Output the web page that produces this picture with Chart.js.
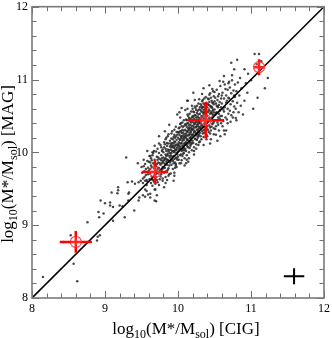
<!DOCTYPE html>
<html>
<head>
<meta charset="utf-8">
<script src="https://cdn.jsdelivr.net/npm/chart.js@4.4.1/dist/chart.umd.min.js"></script>
<style>
  body { margin: 0; background: #fff; }
</style>
</head>
<body>
<canvas id="chart" width="332" height="338"></canvas>
<script>
// axis range and labels
const axisMin = 8;
const axisMax = 12;
const tickLabels = [8, 9, 10, 11, 12];

// individual galaxies: [log M* CIG, log M* MAG]
const galaxies = [
  [8.15,8.29],[8.62,8.23],[8.57,8.47],[8.43,8.77],[8.53,8.86],[8.76,9.04],[8.91,9.18],[8.92,9.11],[8.98,9.16],[8.90,8.84],
  [8.89,8.79],[8.93,8.86],[8.94,9.34],[9.00,9.30],[9.07,9.31],[9.09,9.45],[9.17,9.44],[9.18,9.52],[9.18,9.48],[9.11,9.06],
  [9.11,9.25],[9.20,9.27],[9.07,9.27],[9.27,9.11],[9.24,9.26],[9.32,9.34],[9.31,9.59],[9.37,9.60],[9.41,9.57],[9.46,9.59],
  [9.49,9.61],[9.40,9.20],[9.46,9.34],[9.47,9.38],[9.52,9.41],[9.55,9.39],[9.59,9.42],[9.68,9.49],[9.68,9.34],[9.71,9.41],
  [9.32,9.43],[9.33,9.45],[9.57,9.47],[9.55,9.61],[9.64,9.63],[9.70,9.33],[9.69,9.49],[9.81,9.52],[9.79,9.61],[9.85,9.62],
  [9.87,9.68],[9.94,9.61],[9.90,9.71],[9.95,9.68],[9.97,9.82],[10.04,9.85],[10.09,9.82],[10.11,9.85],[10.14,9.87],[9.62,9.43],
  [9.62,9.38],[9.29,9.93],[9.68,10.09],[9.62,9.95],[9.65,10.00],[9.82,10.29],[9.99,10.52],[10.05,10.61],[10.13,10.71],
  [9.51,9.72],[9.52,9.58],[9.53,9.81],[9.54,9.66],[9.55,9.49],[9.56,9.77],[9.57,9.62],[9.58,9.88],[9.59,9.70],[9.52,9.64],
  [9.55,9.84],[9.57,9.55],[9.59,9.79],[9.54,9.74],[9.58,9.60],[9.50,9.80],[9.56,9.69],[9.53,9.90],
  [9.60,9.75],[9.61,9.63],[9.62,9.86],[9.62,9.71],[9.63,9.92],[9.63,9.58],[9.64,9.80],[9.64,9.67],[9.65,9.96],[9.65,9.73],
  [9.66,9.62],[9.66,9.85],[9.67,9.78],[9.67,10.02],[9.68,9.69],[9.68,9.90],[9.69,9.76],[9.69,9.57],[9.61,9.95],[9.63,9.82],
  [9.65,9.54],[9.66,9.99],[9.68,9.83],[9.69,9.65],[9.62,9.77],[9.64,9.89],[9.67,9.60],[9.60,9.87],
  [9.70,9.81],[9.70,9.66],[9.71,9.94],[9.71,9.74],[9.72,10.05],[9.72,9.59],[9.73,9.86],[9.73,9.71],[9.74,9.99],[9.74,9.78],
  [9.75,9.63],[9.75,9.91],[9.76,10.10],[9.76,9.83],[9.77,9.70],[9.77,9.96],[9.78,9.76],[9.78,10.02],[9.79,9.88],[9.79,9.64],
  [9.70,10.01],[9.71,9.84],[9.72,9.77],[9.73,9.93],[9.74,9.55],[9.75,9.85],[9.76,9.74],[9.77,10.07],[9.78,9.92],[9.79,9.80],
  [9.72,9.90],[9.74,10.12],[9.76,9.67],[9.78,9.85],[9.73,9.79],[9.77,9.89],[9.79,10.04],[9.71,9.62],
  [9.80,9.86],[9.80,10.00],[9.81,9.72],[9.81,10.14],[9.82,9.91],[9.82,9.79],[9.83,10.05],[9.83,9.66],[9.84,9.95],[9.84,10.20],
  [9.85,9.83],[9.85,10.09],[9.86,9.76],[9.86,9.98],[9.87,10.25],[9.87,9.88],[9.88,10.03],[9.88,9.70],[9.89,9.93],[9.89,10.16],
  [9.80,9.93],[9.81,10.07],[9.82,9.84],[9.83,9.97],[9.84,9.74],[9.85,10.13],[9.86,9.90],[9.87,10.01],[9.88,9.82],[9.89,10.08],
  [9.81,9.89],[9.83,10.18],[9.85,9.96],[9.87,9.78],[9.89,9.99],[9.82,10.11],[9.84,9.87],[9.86,10.04],[9.88,9.95],[9.80,9.78],
  [9.85,9.90],[9.87,10.12],[9.83,9.92],[9.89,9.86],[9.86,10.22],[9.84,10.02],
  [9.90,9.96],[9.90,10.12],[9.91,9.83],[9.91,10.26],[9.92,10.02],[9.92,9.90],[9.93,10.18],[9.93,9.77],[9.94,10.07],[9.94,9.95],
  [9.95,10.31],[9.95,10.00],[9.96,9.86],[9.96,10.14],[9.97,9.93],[9.97,10.22],[9.98,10.05],[9.98,9.80],[9.99,10.11],[9.99,9.97],
  [9.90,10.04],[9.91,10.19],[9.92,9.94],[9.93,10.09],[9.94,9.85],[9.95,10.15],[9.96,10.03],[9.97,10.35],[9.98,9.92],[9.99,10.24],
  [9.91,9.99],[9.92,10.13],[9.93,9.88],[9.94,10.21],[9.95,10.06],[9.96,9.79],[9.97,10.10],[9.98,10.17],[9.99,9.90],[9.90,10.08],
  [9.92,10.29],[9.94,10.01],[9.96,10.20],[9.98,9.99],[9.93,10.02],[9.95,9.91],[9.97,10.03],[9.99,10.07],[9.91,10.10],[9.95,10.24],
  [9.97,9.84],[9.90,9.88],[9.94,10.12],[9.98,10.28],[9.96,10.09],[9.92,10.07],
  [10.00,10.10],[10.00,9.94],[10.01,10.27],[10.01,10.04],[10.02,9.85],[10.02,10.18],[10.03,10.39],[10.03,10.08],[10.04,9.97],[10.04,10.22],
  [10.05,10.13],[10.05,9.89],[10.06,10.31],[10.06,10.05],[10.07,10.19],[10.07,9.98],[10.08,10.44],[10.08,10.11],[10.09,10.25],[10.09,9.92],
  [10.00,10.20],[10.01,10.14],[10.02,10.06],[10.03,10.29],[10.04,10.12],[10.05,10.36],[10.06,10.16],[10.07,10.08],[10.08,10.30],[10.09,10.03],
  [10.00,10.01],[10.01,10.33],[10.02,10.24],[10.03,9.96],[10.04,10.40],[10.05,10.21],[10.06,9.95],[10.07,10.27],[10.08,10.17],[10.09,10.37],
  [10.00,10.28],[10.02,10.12],[10.04,10.05],[10.06,10.23],[10.08,9.99],[10.01,9.90],[10.03,10.17],[10.05,10.27],[10.07,10.35],[10.09,10.13],
  [10.02,10.34],[10.04,10.19],[10.06,10.09],[10.08,10.22],[10.03,10.48],[10.07,10.03],[10.09,10.20],[10.05,10.02],[10.01,10.09],[10.06,10.41],
  [10.08,10.06],[10.04,10.29],
  [10.10,10.22],[10.10,10.05],[10.11,10.38],[10.11,10.14],[10.12,9.96],[10.12,10.29],[10.13,10.52],[10.13,10.18],[10.14,10.07],[10.14,10.33],
  [10.15,10.24],[10.15,10.00],[10.16,10.43],[10.16,10.15],[10.17,10.30],[10.17,10.09],[10.18,10.56],[10.18,10.21],[10.19,10.36],[10.19,10.03],
  [10.10,10.31],[10.11,10.26],[10.12,10.17],[10.13,10.40],[10.14,10.23],[10.15,10.47],[10.16,10.27],[10.17,10.19],[10.18,10.41],[10.19,10.13],
  [10.10,10.12],[10.11,10.45],[10.12,10.35],[10.13,10.08],[10.14,10.50],[10.15,10.32],[10.16,10.06],[10.17,10.38],[10.18,10.28],[10.19,10.48],
  [10.10,10.39],[10.12,10.23],[10.14,10.16],[10.16,10.34],[10.18,10.11],[10.11,10.02],[10.13,10.28],[10.15,10.37],[10.17,10.46],[10.19,10.24],
  [10.12,10.44],[10.14,10.30],[10.16,10.20],[10.18,10.33],[10.13,10.60],[10.17,10.14],[10.19,10.31],[10.15,10.12],[10.11,10.20],[10.16,10.53],
  [10.18,10.17],[10.14,10.40],[10.10,10.58],[10.13,10.71],[10.19,10.64],[10.15,9.92],[10.17,10.25],[10.12,10.10],
  [10.20,10.32],[10.20,10.16],[10.21,10.49],[10.21,10.25],[10.22,10.07],[10.22,10.40],[10.23,10.63],[10.23,10.29],[10.24,10.18],[10.24,10.44],
  [10.25,10.35],[10.25,10.11],[10.26,10.54],[10.26,10.26],[10.27,10.41],[10.27,10.20],[10.28,10.67],[10.28,10.32],[10.29,10.47],[10.29,10.14],
  [10.20,10.42],[10.21,10.37],[10.22,10.28],[10.23,10.51],[10.24,10.34],[10.25,10.58],[10.26,10.38],[10.27,10.30],[10.28,10.52],[10.29,10.24],
  [10.20,10.23],[10.21,10.56],[10.22,10.46],[10.23,10.19],[10.24,10.61],[10.25,10.43],[10.26,10.17],[10.27,10.49],[10.28,10.39],[10.29,10.59],
  [10.20,10.50],[10.22,10.34],[10.24,10.27],[10.26,10.45],[10.28,10.22],[10.21,10.13],[10.23,10.39],[10.25,10.48],[10.27,10.57],[10.29,10.35],
  [10.22,10.55],[10.24,10.41],[10.26,10.31],[10.28,10.44],[10.23,10.72],[10.27,10.25],[10.29,10.42],[10.25,10.23],[10.21,10.31],[10.26,10.64],
  [10.28,10.28],[10.24,10.51],[10.29,10.73],[10.22,10.02],[10.27,10.36],[10.20,10.60],[10.25,10.05],[10.28,10.10],
  [10.30,10.41],[10.30,10.27],[10.31,10.58],[10.31,10.34],[10.32,10.18],[10.32,10.50],[10.33,10.70],[10.33,10.38],[10.34,10.26],[10.34,10.55],
  [10.35,10.45],[10.35,10.21],[10.36,10.63],[10.36,10.36],[10.37,10.52],[10.37,10.30],[10.38,10.76],[10.38,10.42],[10.39,10.57],[10.39,10.24],
  [10.30,10.53],[10.31,10.46],[10.32,10.37],[10.33,10.61],[10.34,10.44],[10.35,10.67],[10.36,10.47],[10.37,10.39],[10.38,10.60],[10.39,10.33],
  [10.30,10.33],[10.31,10.66],[10.32,10.56],[10.33,10.29],[10.34,10.72],[10.35,10.53],[10.36,10.27],[10.37,10.59],[10.38,10.49],[10.39,10.68],
  [10.30,10.62],[10.32,10.43],[10.34,10.35],[10.36,10.55],[10.38,10.31],[10.31,10.22],[10.33,10.48],[10.35,10.58],[10.37,10.66],[10.39,10.45],
  [10.32,10.64],[10.34,10.50],[10.36,10.40],[10.38,10.54],[10.33,10.80],[10.37,10.34],[10.39,10.51],[10.35,10.31],[10.31,10.40],[10.36,10.74],
  [10.38,10.37],[10.34,10.62],[10.30,10.15],[10.35,10.10],[10.39,10.18],
  [10.40,10.50],[10.40,10.36],[10.41,10.66],[10.41,10.43],[10.42,10.28],[10.42,10.59],[10.43,10.79],[10.43,10.47],[10.44,10.34],[10.44,10.64],
  [10.45,10.54],[10.45,10.30],[10.46,10.71],[10.46,10.45],[10.47,10.61],[10.47,10.39],[10.48,10.84],[10.48,10.51],[10.49,10.66],[10.49,10.33],
  [10.40,10.62],[10.41,10.55],[10.42,10.46],[10.43,10.69],[10.44,10.53],[10.45,10.75],[10.46,10.56],[10.47,10.48],[10.48,10.68],[10.49,10.42],
  [10.40,10.42],[10.41,10.74],[10.42,10.65],[10.43,10.37],[10.44,10.81],[10.45,10.62],[10.46,10.35],[10.47,10.68],[10.48,10.58],[10.49,10.77],
  [10.41,10.31],[10.43,10.57],[10.45,10.44],[10.47,10.53],[10.49,10.55],[10.42,10.73],[10.44,10.26],[10.46,10.63],[10.48,10.40],[10.40,10.22],
  [10.45,10.18],[10.49,10.25],[10.43,10.92],[10.47,10.87],
  [10.50,10.59],[10.50,10.44],[10.51,10.75],[10.51,10.52],[10.52,10.36],[10.52,10.67],[10.53,10.86],[10.53,10.55],[10.54,10.41],[10.54,10.72],
  [10.55,10.62],[10.55,10.38],[10.56,10.80],[10.56,10.53],[10.57,10.69],[10.57,10.46],[10.58,10.91],[10.58,10.58],[10.59,10.74],[10.59,10.40],
  [10.50,10.70],[10.52,10.54],[10.54,10.63],[10.56,10.65],[10.58,10.50],[10.51,10.32],[10.53,10.64],[10.55,10.77],[10.57,10.57],[10.59,10.62],
  [10.52,10.24],[10.56,10.30],[10.54,10.16],[10.58,10.22],[10.50,10.83],[10.55,10.48],
  [10.60,10.67],[10.60,10.50],[10.61,10.82],[10.62,10.59],[10.62,10.43],[10.63,10.74],[10.64,10.93],[10.64,10.62],[10.65,10.48],[10.66,10.78],
  [10.66,10.68],[10.67,10.45],[10.68,10.86],[10.68,10.60],[10.69,10.75],[10.69,10.53],[10.61,10.36],[10.63,10.56],[10.65,10.87],[10.67,10.71],
  [10.60,10.78],[10.62,10.97],[10.66,10.30],[10.68,10.40],[10.64,10.25],[10.63,11.05],[10.69,10.95],
  [10.70,10.74],[10.71,10.57],[10.71,10.89],[10.72,10.66],[10.73,10.51],[10.73,10.81],[10.74,10.99],[10.75,10.70],[10.76,10.55],[10.76,10.85],
  [10.77,10.63],[10.78,10.93],[10.78,10.76],[10.79,10.60],[10.72,10.42],[10.75,10.48],[10.77,10.78],[10.70,10.97],[10.74,11.06],[10.79,10.47],
  [10.73,11.23],[10.77,11.14],
  [10.80,10.84],[10.81,10.68],[10.82,10.96],[10.83,10.55],[10.84,10.78],[10.85,11.02],[10.86,10.64],[10.87,10.88],[10.89,10.52],[10.91,10.71],
  [10.91,11.14],[10.81,11.27],[10.93,10.95],[10.95,10.82],[11.00,10.99],[11.05,11.35],[11.11,11.35],[11.09,10.75],[11.19,10.88],[11.23,11.02],
  [11.08,11.21],[11.14,11.25],[11.03,10.60],[10.96,11.08],
  // scattered edge points
  [9.45,9.85],[9.58,10.02],[9.74,10.22],[9.88,10.38],[10.02,10.55],[10.21,10.82],[10.35,10.88],[9.95,9.72],[10.22,9.97],[10.44,10.12],
  [10.63,10.30],[10.80,10.44],[9.83,9.58],[10.57,10.98],[10.12,9.90]
];

// binned means with errors (red)
const binCIG = [8.60, 9.685, 10.38, 11.11];
const binMAG = [8.77, 9.73, 10.44, 11.17];
const binErrCIG = [0.22, 0.18, 0.25, 0.07];
const binErrMAG = [0.15, 0.16, 0.25, 0.11];

// typical error cross (black)
const typicalCIG = 11.59;
const typicalMAG = 8.30;
const typicalErrCIG = 0.14;
const typicalErrMAG = 0.11;

const serif = "'Liberation Serif', 'DejaVu Serif', serif";

function crossDatasets(xs, ys, ex, ey, color, width) {
  const sets = [];
  xs.forEach((x, i) => {
    const y = ys[i];
    sets.push({
      type: 'line', showLine: true, pointRadius: 0, borderColor: color, borderWidth: width,
      order: 0, data: [{ x: x - ex[i], y }, { x: x + ex[i], y }]
    });
    sets.push({
      type: 'line', showLine: true, pointRadius: 0, borderColor: color, borderWidth: width,
      order: 0, data: [{ x, y: y - ey[i] }, { x, y: y + ey[i] }]
    });
  });
  return sets;
}

// frame, inward ticks and titles with subscripts
const framePlugin = {
  id: 'frame',
  afterDraw(chart) {
    const { ctx, chartArea: a, scales } = chart;
    ctx.save();
    ctx.strokeStyle = '#6e6e6e';
    ctx.lineWidth = 1;
    for (let i = 0; i <= 20; i++) {
      const v = axisMin + i * 0.2;
      const major = i % 5 === 0;
      const len = major ? 7 : 4.5;
      const px = Math.round(scales.x.getPixelForValue(v)) + 0.5;
      const py = Math.round(scales.y.getPixelForValue(v)) + 0.5;
      ctx.beginPath();
      ctx.moveTo(px, a.bottom); ctx.lineTo(px, a.bottom - len);
      ctx.moveTo(px, a.top); ctx.lineTo(px, a.top + len);
      ctx.moveTo(a.left, py); ctx.lineTo(a.left + len, py);
      ctx.moveTo(a.right, py); ctx.lineTo(a.right - len, py);
      ctx.stroke();
    }
    ctx.lineWidth = 1.6;
    ctx.strokeStyle = '#7a7a7a';
    ctx.strokeRect(a.left, a.top, a.right - a.left, a.bottom - a.top);

    ctx.fillStyle = '#000';
    drawTitle(ctx, 'CIG', (a.left + a.right) / 2 + 8, 334, 0);
    drawTitle(ctx, 'MAG', 13, 164, -Math.PI / 2);
    ctx.restore();
  }
};

function drawTitle(ctx, tag, cx, cy, angle) {
  const big = '17px ' + serif;
  const small = '12px ' + serif;
  const parts = [['log', big, 0], ['10', small, 4], ['(M*/M', big, 0], ['sol', small, 4], [') [' + tag + ']', big, 0]];
  let total = 0;
  parts.forEach(p => { ctx.font = p[1]; total += ctx.measureText(p[0]).width; });
  ctx.save();
  ctx.translate(cx, cy);
  ctx.rotate(angle);
  ctx.textBaseline = 'alphabetic';
  ctx.textAlign = 'left';
  let x = -total / 2;
  parts.forEach(p => {
    ctx.font = p[1];
    ctx.fillText(p[0], x, p[2]);
    x += ctx.measureText(p[0]).width;
  });
  ctx.restore();
}

const datasets = [
  {
    label: 'bins',
    data: binCIG.map((x, i) => ({ x, y: binMAG[i] })),
    pointStyle: 'circle',
    pointRadius: 5.5,
    borderColor: 'rgba(255,30,30,0.8)',
    backgroundColor: 'rgba(255,255,255,0.15)',
    borderWidth: 1.2,
    order: 0
  },
  ...crossDatasets(binCIG, binMAG, binErrCIG, binErrMAG, '#ff0000', 2.5),
  ...crossDatasets([typicalCIG], [typicalMAG], [typicalErrCIG], [typicalErrMAG], '#000', 2),
  {
    type: 'line', label: 'one-to-one', showLine: true, pointRadius: 0,
    borderColor: '#000', borderWidth: 1.6, order: 1,
    data: [{ x: axisMin, y: axisMin }, { x: axisMax, y: axisMax }]
  },
  {
    label: 'galaxies',
    data: galaxies.map(g => ({ x: g[0], y: g[1] })),
    pointStyle: 'circle',
    pointRadius: 1.25,
    borderWidth: 0,
    backgroundColor: 'rgba(40,40,40,0.85)',
    order: 2
  }
];

new Chart(document.getElementById('chart'), {
  type: 'scatter',
  data: { datasets },
  options: {
    responsive: false,
    animation: false,
    layout: { padding: { top: 5, right: 8, left: 0, bottom: 0 } },
    plugins: { legend: { display: false }, tooltip: { enabled: false } },
    scales: {
      x: {
        type: 'linear', min: axisMin, max: axisMax,
        grid: { display: false, drawTicks: false },
        border: { display: false },
        ticks: {
          stepSize: 1, padding: 4, color: '#000', maxRotation: 0,
          font: { family: serif, size: 12 },
          callback: v => tickLabels.includes(v) ? String(v) : ''
        },
        afterFit(scale) { scale.height = 40; scale.paddingLeft = 0; scale.paddingRight = 0; }
      },
      y: {
        type: 'linear', min: axisMin, max: axisMax,
        grid: { display: false, drawTicks: false },
        border: { display: false },
        ticks: {
          stepSize: 1, padding: 4, color: '#000',
          font: { family: serif, size: 12 },
          callback: v => tickLabels.includes(v) ? String(v) : ''
        },
        afterFit(scale) { scale.width = 32; scale.paddingTop = 0; scale.paddingBottom = 0; }
      }
    }
  },
  plugins: [framePlugin]
});
</script>
</body>
</html>
